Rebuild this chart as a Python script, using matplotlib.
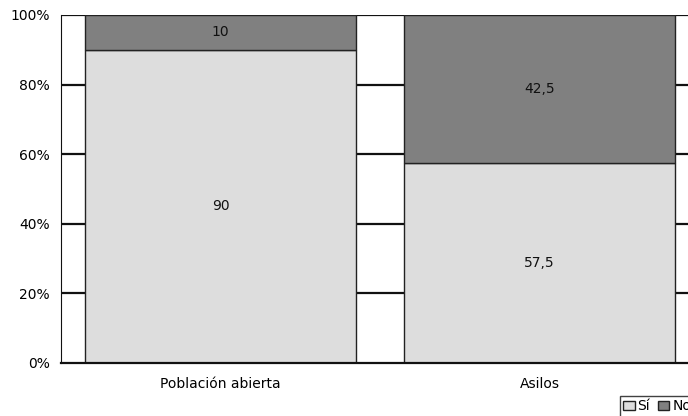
import matplotlib.pyplot as plt
import numpy as np

categories = ["Población abierta", "Asilos"]
si_vals = [90, 57.5]
no_vals = [10, 42.5]
si_labels = ["90", "57,5"]
no_labels = ["10", "42,5"]
yticks = [0, 20, 40, 60, 80, 100]

plt.rcParams["font.family"] = ["DejaVu Sans"]

fig = plt.figure(figsize=(6.88, 4.16), dpi=100)
# axes runs past the right edge, like the original capture
ax = fig.add_axes([61 / 688, 1 - 363 / 416, 638 / 688, 348 / 416])

x = np.arange(len(categories))
width = 0.85
c_si, c_no = "#dddddd", "#808080"

ax.bar(x, si_vals, width, color=c_si, edgecolor="#222222", linewidth=1.0, label="Sí", zorder=2)
ax.bar(x, no_vals, width, bottom=si_vals, color=c_no, edgecolor="#222222", linewidth=1.0, label="No", zorder=2)

for i in range(len(categories)):
    ax.text(x[i], si_vals[i] / 2, si_labels[i], ha="center", va="center", fontsize=10, color="#111111", zorder=3)
    ax.text(x[i], si_vals[i] + no_vals[i] / 2, no_labels[i], ha="center", va="center", fontsize=10, color="#111111", zorder=3)

ax.set_xlim(-0.5, 1.5)
ax.set_ylim(0, 100)
ax.set_yticks(yticks)
ax.set_yticklabels([f"{v}%" for v in yticks], fontsize=10)
ax.set_xticks(x)
ax.set_xticklabels(categories, fontsize=10)
ax.tick_params(axis="both", length=0)
ax.tick_params(axis="y", pad=8)
ax.tick_params(axis="x", pad=10)

for v in yticks[1:]:
    ax.axhline(v, color="#111111", linewidth=1.6, zorder=1)

for side in ["top", "right"]:
    ax.spines[side].set_visible(False)
ax.spines["left"].set_color("#111111")
ax.spines["bottom"].set_color("#111111")
ax.spines["bottom"].set_linewidth(1.6)

# legend sits at the bottom-right corner, partly outside the frame as in the original
leg = fig.legend(loc="upper left", bbox_to_anchor=(620 / 688, 1 - 396 / 416),
                 bbox_transform=fig.transFigure, ncol=2, fontsize=10,
                 frameon=True, fancybox=False, shadow=False, borderaxespad=0,
                 handlelength=0.8, handleheight=0.6, handletextpad=0.2,
                 columnspacing=0.6, borderpad=0.25)
leg.get_frame().set_edgecolor("#111111")
leg.get_frame().set_linewidth(1.0)

fig.savefig("out.png", dpi=100)
